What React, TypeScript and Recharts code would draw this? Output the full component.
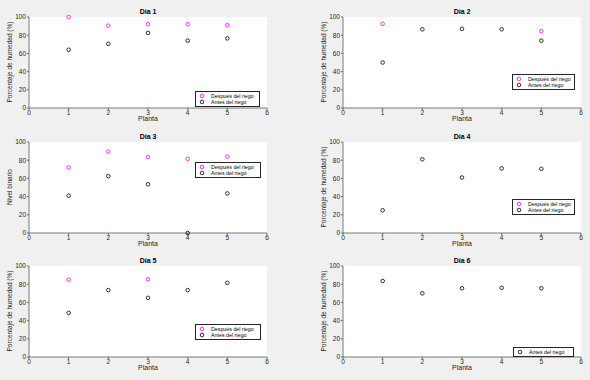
import React from "react";
import { ScatterChart, Scatter, XAxis, YAxis, CartesianGrid, Legend } from "recharts";

const plantas = [1, 2, 3, 4, 5];
const xTicks = [0, 1, 2, 3, 4, 5, 6];
const yTicks = [0, 20, 40, 60, 80, 100];

const dia1Despues = [100, 90.5, 92, 92, 91];
const dia1Antes = [64, 70.5, 82.5, 74, 76.5];
const dia2Despues = [92.5, null, null, null, 84.5];
const dia2Antes = [50, 86.5, 87, 86.5, 74];
const dia3Despues = [72, 89.5, 83.5, 81.5, 84];
const dia3Antes = [41, 62.5, 53.5, 0, 43.5];
const dia4Despues = [null, null, null, null, null];
const dia4Antes = [25, 81, 61, 71, 70.5];
const dia5Despues = [85, null, 85.5, null, null];
const dia5Antes = [48.5, 73.5, 65, 73.5, 81.5];
const dia6Antes = [83.5, 70, 75.5, 76, 75.5];

const titulos = ["Día 1", "Día 2", "Día 3", "Día 4", "Día 5", "Día 6"];
const etiquetasY = [
  "Porcentaje de humedad (%)",
  "Porcentaje de humedad (%)",
  "Nivel binario",
  "Porcentaje de humedad (%)",
  "Porcentaje de humedad (%)",
  "Porcentaje de humedad (%)",
];
const nombreDespues = "Después del riego";
const nombreAntes = "Antes del riego";
const ordenLeyenda = [nombreDespues, nombreAntes];

const FONT = "'Liberation Sans', Arial, sans-serif";
const AXIS = "#262626";
const MAGENTA = "#ff00ff";
const PANEL_W = 295;
const PANEL_H = 125;

const toPoints = (vals: (number | null)[]) =>
  plantas.map((x, i) => ({ x, y: vals[i] })).filter((p) => p.y !== null);

const ring = (color: string) => (props: any) =>
  <circle cx={props.cx} cy={props.cy} r={1.8} fill="none" stroke={color} strokeWidth={0.8} />;

const LegendBox = ({ payload, width }: any) => {
  const items = [...(payload || [])].sort(
    (a: any, b: any) => ordenLeyenda.indexOf(a.value) - ordenLeyenda.indexOf(b.value)
  );
  return (
    <div
      style={{
        width,
        boxSizing: "border-box",
        border: "0.8px solid #262626",
        background: "#fff",
        padding: "1px 1px",
        fontFamily: FONT,
        fontSize: 5.3,
        color: "#000",
      }}
    >
      {items.map((p: any) => (
        <div key={p.value} style={{ display: "flex", alignItems: "center", height: 6 }}>
          <svg width={11} height={6} style={{ flex: "none" }}>
            <circle cx={5} cy={3} r={1.8} fill="none" stroke={p.color} strokeWidth={0.8} />
          </svg>
          <span style={{ marginLeft: 3, whiteSpace: "nowrap" }}>{p.value}</span>
        </div>
      ))}
    </div>
  );
};

const panels = [
  { despues: dia1Despues, antes: dia1Antes, col: 0, row: 0, legend: { left: 195, top: 91, width: 65 } },
  { despues: dia2Despues, antes: dia2Antes, col: 1, row: 0, legend: { left: 217, top: 74, width: 63 } },
  { despues: dia3Despues, antes: dia3Antes, col: 0, row: 1, legend: { left: 195, top: 37, width: 66 } },
  { despues: dia4Despues, antes: dia4Antes, col: 1, row: 1, legend: { left: 217, top: 74, width: 63 } },
  { despues: dia5Despues, antes: dia5Antes, col: 0, row: 2, legend: { left: 195, top: 75, width: 66 } },
  { despues: null, antes: dia6Antes, col: 1, row: 2, legend: { left: 218, top: 98, width: 61 } },
];

const rowTops = [0, 125, 249];

const Panel = ({ cfg, idx }: any) => {
  const left = cfg.col === 0 ? 9 : 28;
  const right = cfg.col === 0 ? 28 : 9;
  const plotL = left + 20;
  const plotR = PANEL_W - right;
  const cx = (plotL + plotR) / 2;
  const tick = { fontSize: 6.5, fill: AXIS, fontFamily: FONT };
  return (
    <div style={{ position: "absolute", left: cfg.col * PANEL_W, top: rowTops[cfg.row], width: PANEL_W, height: PANEL_H }}>
      <ScatterChart width={PANEL_W} height={PANEL_H} margin={{ top: 17, right, left, bottom: 7 }}>
        <CartesianGrid fill="#ffffff" stroke="none" horizontal={false} vertical={false} />
        <XAxis
          type="number"
          dataKey="x"
          domain={[0, 6]}
          ticks={xTicks}
          height={10}
          tickSize={2}
          tickMargin={0}
          tick={tick}
          axisLine={{ stroke: AXIS, strokeWidth: 0.6 }}
          tickLine={{ stroke: AXIS, strokeWidth: 0.6 }}
        />
        <YAxis
          type="number"
          dataKey="y"
          domain={[0, 100]}
          ticks={yTicks}
          width={20}
          tickSize={2}
          tickMargin={1}
          tick={tick}
          axisLine={{ stroke: AXIS, strokeWidth: 0.6 }}
          tickLine={{ stroke: AXIS, strokeWidth: 0.6 }}
        />
        {cfg.despues && (
          <Scatter
            name={nombreDespues}
            data={toPoints(cfg.despues)}
            fill={MAGENTA}
            shape={ring(MAGENTA)}
            isAnimationActive={false}
          />
        )}
        <Scatter name={nombreAntes} data={toPoints(cfg.antes)} fill="#000000" shape={ring("#000000")} isAnimationActive={false} />
        <Legend
          layout="vertical"
          align="center"
          verticalAlign="middle"
          wrapperStyle={{ left: cfg.legend.left, top: cfg.legend.top, width: cfg.legend.width }}
          content={(props: any) => <LegendBox payload={props.payload} width={cfg.legend.width} />}
        />
      </ScatterChart>
      <div
        style={{
          position: "absolute",
          left: cx - 40,
          width: 80,
          top: 8,
          textAlign: "center",
          fontFamily: FONT,
          fontWeight: "bold",
          fontSize: 7,
          color: "#000",
        }}
      >
        {titulos[idx]}
      </div>
      <div
        style={{
          position: "absolute",
          left: cx - 40,
          width: 80,
          top: 115,
          textAlign: "center",
          fontFamily: FONT,
          fontSize: 7,
          color: AXIS,
        }}
      >
        Planta
      </div>
      <div
        style={{
          position: "absolute",
          left: plotL - 19 - 50,
          top: 58,
          width: 100,
          textAlign: "center",
          transform: "rotate(-90deg)",
          fontFamily: FONT,
          fontSize: 6.5,
          lineHeight: "8px",
          color: AXIS,
        }}
      >
        {etiquetasY[idx]}
      </div>
    </div>
  );
};

export default function App() {
  return (
    <div style={{ position: "absolute", left: 0, top: 0, width: 590, height: 380, background: "#f0f0f0", overflow: "hidden" }}>
      {panels.map((cfg, i) => (
        <Panel key={i} cfg={cfg} idx={i} />
      ))}
    </div>
  );
}
